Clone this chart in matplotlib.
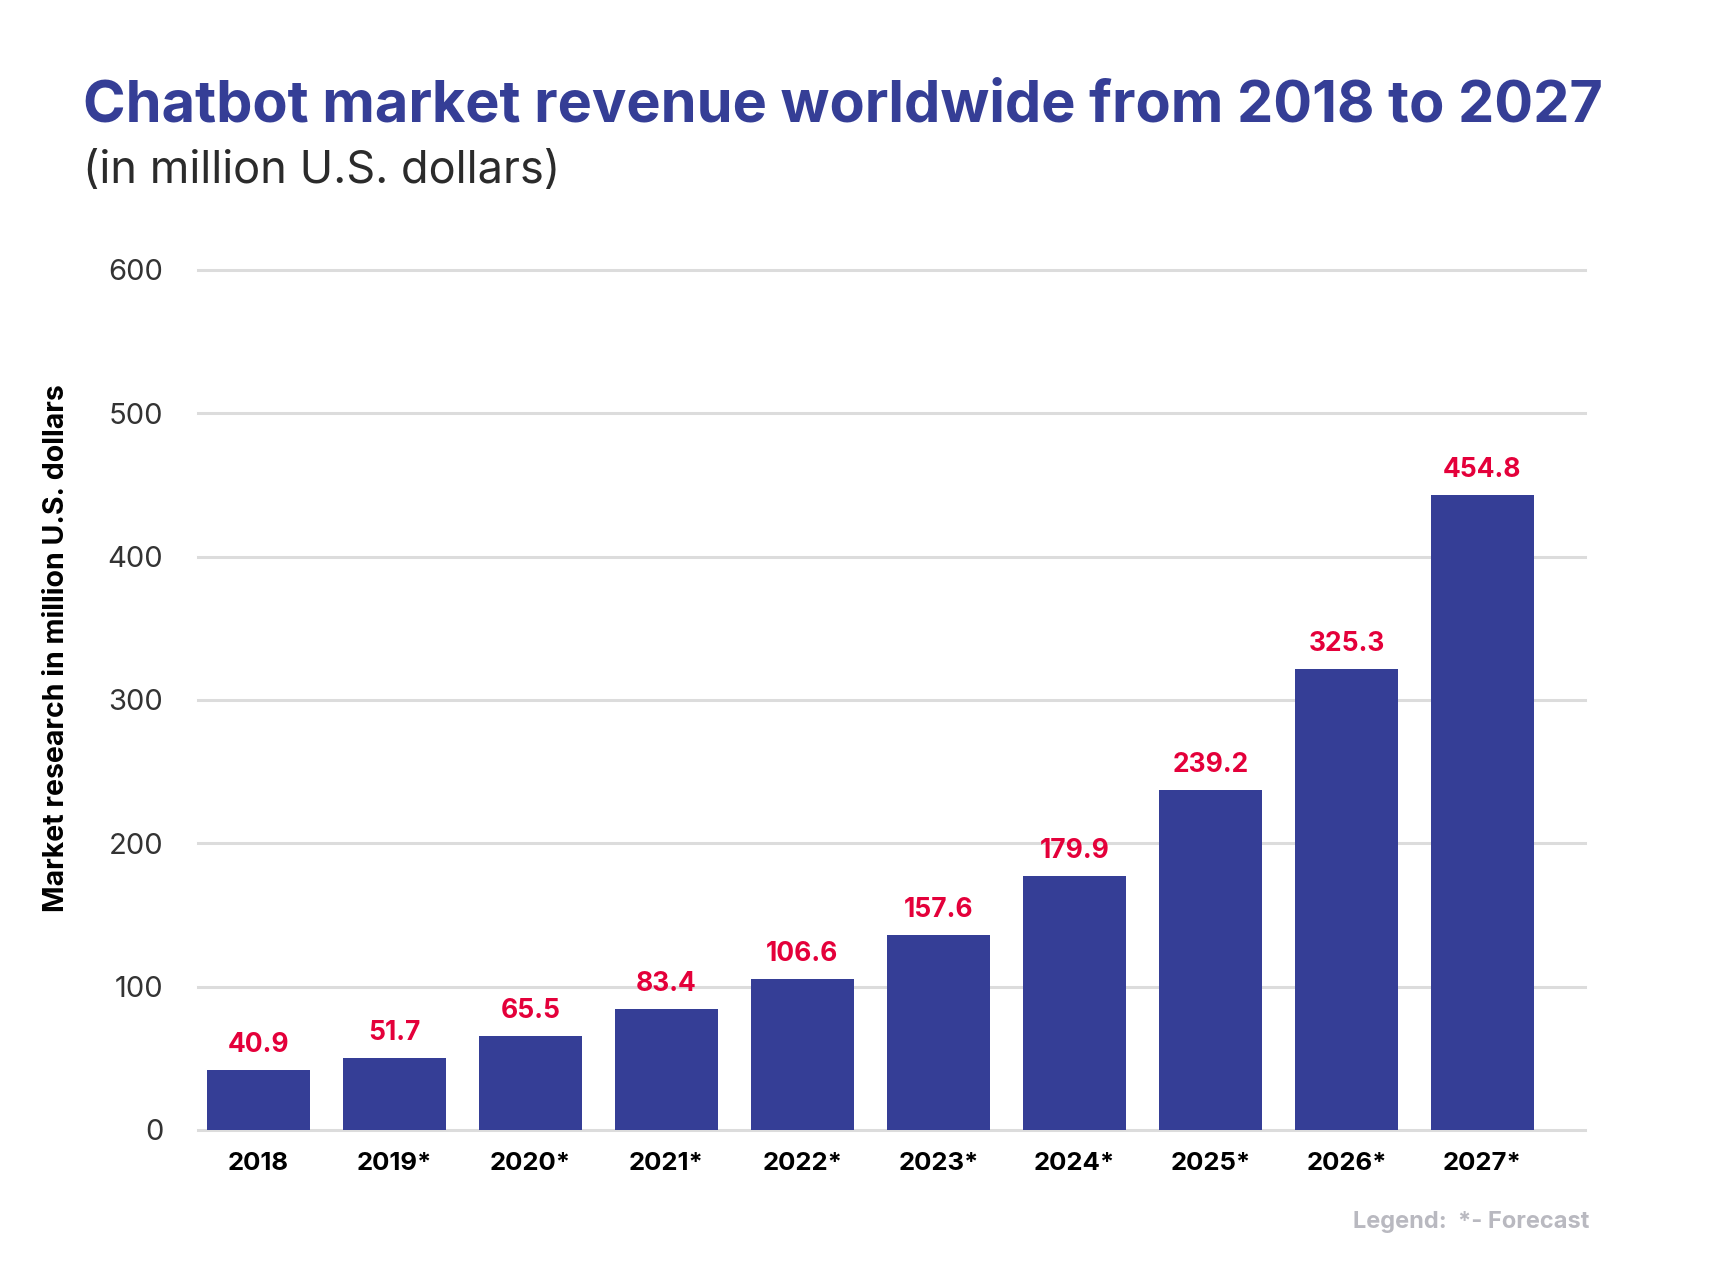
import numpy as np
from matplotlib import pyplot as plt

plt.rcParams['font.family'] = ['Inter', 'DejaVu Sans']

years = ['2018', '2019*', '2020*', '2021*', '2022*', '2023*', '2024*', '2025*', '2026*', '2027*']
# printed values above the bars
revenue_labels = [40.9, 51.7, 65.5, 83.4, 106.6, 157.6, 179.9, 239.2, 325.3, 454.8]
# bar heights as drawn in the source picture (they don't quite match the labels)
bar_heights = [41.9, 50.4, 65.4, 84.7, 105.4, 136.3, 177.5, 237.3, 321.5, 443.3]
y_ticks = [0, 100, 200, 300, 400, 500, 600]

W, H = 1717, 1273
bar_color = '#353e96'
label_color = '#e4003a'

fig = plt.figure(figsize=(W / 100, H / 100), dpi=100)
ax = fig.add_axes([198 / W, 1 - 1130 / H, (1585 - 198) / W, 860 / H])

x = np.arange(len(years))
ax.bar(x, bar_heights, width=0.757, color=bar_color, zorder=2)

for i in range(len(years)):
    ax.annotate(str(revenue_labels[i]), (x[i], bar_heights[i]), xytext=(0, 13),
                textcoords='offset points', ha='center', va='baseline',
                fontsize=19, fontweight='bold', color=label_color)

ax.set_xlim(-0.445, 9.754)
ax.set_ylim(0, 600)
ax.set_yticks(y_ticks)
ax.set_xticks(x)
ax.set_xticklabels(years, fontsize=18.5, fontweight='bold', color='black')
ax.set_yticklabels([str(t) for t in y_ticks], fontsize=21, color='#333333')
ax.tick_params(axis='y', length=0, pad=25)
ax.tick_params(axis='x', length=0, pad=16)
ax.yaxis.grid(True, color='#dcdcdc', linewidth=2.2)
ax.set_axisbelow(True)
for line in ax.get_ygridlines():
    line.set_clip_on(False)
for s in ax.spines.values():
    s.set_visible(False)

fig.text(56 / W, 1 - 648 / H, 'Market research in million U.S. dollars', rotation=90,
         ha='center', va='center', fontsize=20.5, fontweight='bold', color='black')

fig.text(83 / W, 1 - 121 / H, 'Chatbot market revenue worldwide from 2018 to 2027',
         ha='left', va='baseline', fontsize=41.5, fontweight='bold', color=bar_color)
fig.text(83 / W, 1 - 183 / H, '(in million U.S. dollars)', ha='left', va='baseline',
         fontsize=32.5, fontweight='normal', color='#2b2b2b')
fig.text(1589 / W, 1 - 1228 / H, 'Legend:  *- Forecast', ha='right', va='baseline',
         fontsize=17, fontweight='bold', color='#b9b9c0')

plt.savefig('out.png', dpi=100)
